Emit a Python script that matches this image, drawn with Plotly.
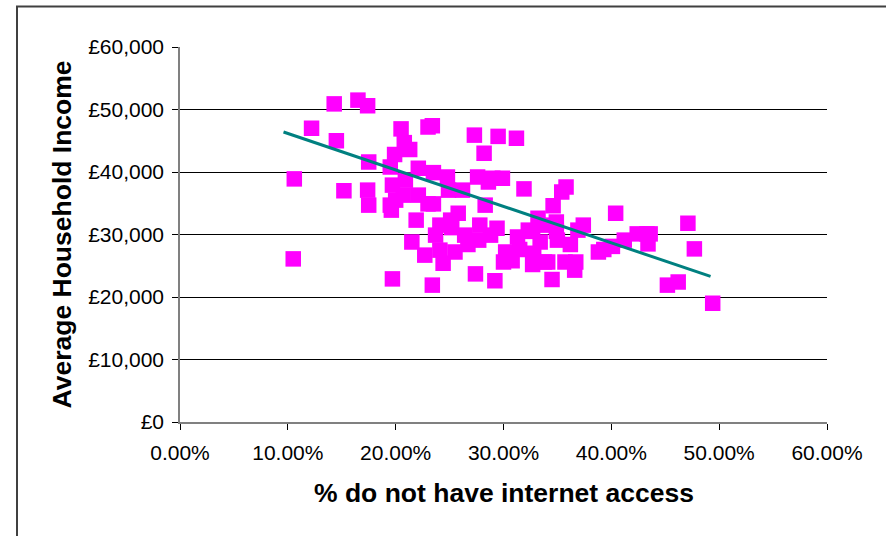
import plotly.graph_objects as go

# Share of households without internet access (fraction) and average household income (GBP)
no_internet = [
    0.105, 0.106, 0.122, 0.143, 0.145, 0.152, 0.165, 0.174, 0.175, 0.174,
    0.175, 0.197, 0.195, 0.199, 0.197, 0.200, 0.195, 0.196, 0.205, 0.208,
    0.213, 0.209, 0.207, 0.215, 0.221, 0.219, 0.221, 0.230, 0.234, 0.235,
    0.235, 0.230, 0.234, 0.227, 0.237, 0.241, 0.244, 0.248, 0.249, 0.241,
    0.251, 0.252, 0.255, 0.258, 0.262, 0.264, 0.267, 0.273, 0.274, 0.276,
    0.278, 0.277, 0.282, 0.283, 0.286, 0.288, 0.290, 0.292, 0.295, 0.294,
    0.299, 0.300, 0.302, 0.308, 0.312, 0.313, 0.315, 0.319, 0.323, 0.327,
    0.328, 0.332, 0.334, 0.336, 0.338, 0.341, 0.345, 0.346, 0.349, 0.350,
    0.354, 0.358, 0.357, 0.362, 0.366, 0.367, 0.369, 0.374, 0.388, 0.393,
    0.401, 0.404, 0.412, 0.424, 0.433, 0.434, 0.436, 0.452, 0.462, 0.471,
    0.477, 0.494, 0.327, 0.349,
]
avg_income = [
    26100, 38900, 47000, 50900, 45000, 37000, 51500, 50600, 41600, 37100,
    34700, 22900, 40800, 42800, 37900, 35500, 34700, 33900, 46900, 44700,
    43600, 38700, 36300, 28800, 40600, 32300, 36300, 47200, 47400, 39900,
    34900, 34900, 21900, 26700, 29900, 31500, 25400, 39200, 37100, 27500,
    32300, 31100, 27200, 33400, 37100, 29900, 28400, 45900, 23700, 39200,
    31500, 29100, 43000, 34700, 38400, 29900, 39000, 22600, 45700, 31000,
    39000, 25600, 27200, 25800, 45400, 29600, 27600, 37300, 30700, 25200,
    27000, 32600, 28800, 31500, 25600, 25600, 22800, 34600, 32000, 29100,
    36800, 37600, 25600, 28400, 24300, 25600, 30700, 31500, 27200, 27600,
    28100, 33400, 29100, 30100, 30100, 28500, 30100, 21900, 22400, 31800,
    27700, 19000, 30500, 30500,
]

# Linear trend line end points
trend_x = [0.096, 0.492]
trend_y = [46400, 23300]

x_ticks = [0, 0.1, 0.2, 0.3, 0.4, 0.5, 0.6]
x_tick_labels = ["0.00%", "10.00%", "20.00%", "30.00%", "40.00%", "50.00%", "60.00%"]
y_ticks = [0, 10000, 20000, 30000, 40000, 50000, 60000]
y_tick_labels = ["£0", "£10,000", "£20,000", "£30,000", "£40,000", "£50,000", "£60,000"]

fig = go.Figure()
fig.add_trace(go.Scatter(
    x=no_internet, y=avg_income, mode="markers",
    marker=dict(symbol="square", size=15.5, color="#FF00FF", line=dict(width=0)),
    showlegend=False, hoverinfo="x+y",
))
fig.add_trace(go.Scatter(
    x=trend_x, y=trend_y, mode="lines",
    line=dict(color="#008080", width=3),
    showlegend=False, hoverinfo="skip",
))

tick_font = dict(family="Liberation Sans, Arial, sans-serif", size=21, color="#000000")
title_font = dict(family="Liberation Sans, Arial, sans-serif", size=26.5, color="#000000")

fig.update_layout(
    width=886, height=536,
    margin=dict(l=180, r=59, t=47, b=114, pad=0),
    paper_bgcolor="white", plot_bgcolor="white",
    xaxis=dict(
        range=[0, 0.6], tickmode="array", tickvals=x_ticks, ticktext=x_tick_labels,
        showgrid=False, zeroline=False,
        showline=True, linecolor="#808080", linewidth=2,
        ticks="outside", ticklen=6, tickcolor="#000000", tickwidth=1,
        tickfont=tick_font, ticklabelstandoff=5,
    ),
    yaxis=dict(
        range=[0, 60000], tickmode="array", tickvals=y_ticks, ticktext=y_tick_labels,
        showgrid=True, gridcolor="#000000", gridwidth=1, zeroline=False,
        showline=True, linecolor="#808080", linewidth=1.5,
        ticks="outside", ticklen=6, tickcolor="#000000", tickwidth=1,
        tickfont=tick_font, ticklabelstandoff=4,
    ),
    annotations=[
        dict(text="<b>% do not have internet access</b>", xref="paper", yref="paper",
             x=0.5, y=-0.188, xanchor="center", yanchor="middle",
             showarrow=False, font=title_font),
        dict(text="<b>Average Household Income</b>", xref="paper", yref="paper",
             x=-0.1825, y=0.5, xanchor="center", yanchor="middle", textangle=-90,
             showarrow=False, font=title_font),
    ],
    shapes=[
        dict(type="rect", xref="paper", yref="paper",
             x0=(17 - 180) / 647, x1=1.12, y0=-0.4, y1=(422.3 - 6.5) / 375.3,
             line=dict(color="#404040", width=2), fillcolor="rgba(0,0,0,0)", layer="below"),
    ],
)

fig.write_html("out.html")
